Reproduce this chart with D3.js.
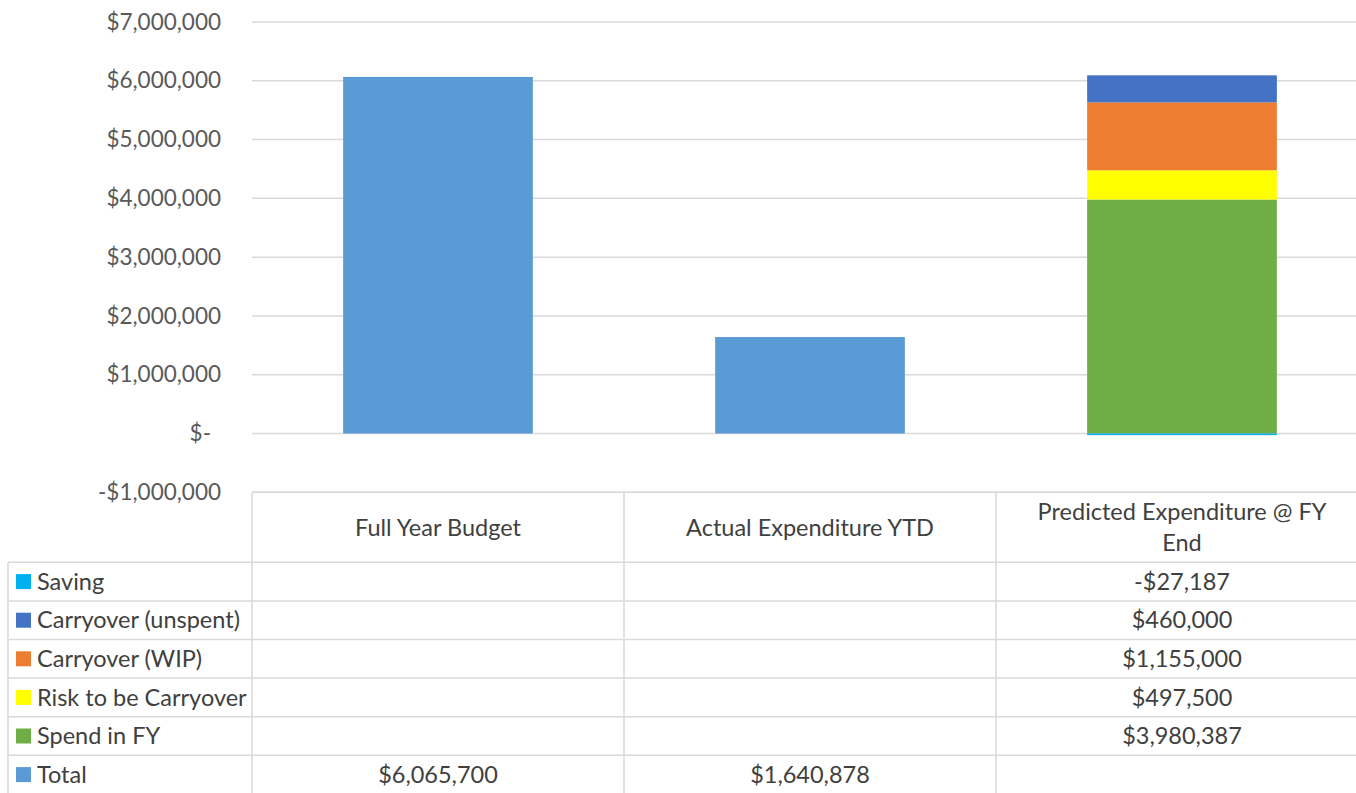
<!DOCTYPE html>
<html>
<head>
<meta charset="utf-8">
<script src="https://cdn.jsdelivr.net/npm/d3@7/dist/d3.min.js"></script>
<style>
  html, body { margin: 0; padding: 0; background: #fff; }
  svg { display: block; font-family: Lato, "Open Sans", sans-serif; }
</style>
</head>
<body>
<svg id="chart" width="1356" height="793"></svg>
<script>
// Budget categories (columns of the chart and of the data table)
const categories = ["Full Year Budget", "Actual Expenditure YTD", "Predicted Expenditure @ FY End"];

// Series, in data-table order (top to bottom)
const seriesNames = ["Saving", "Carryover (unspent)", "Carryover (WIP)", "Risk to be Carryover", "Spend in FY", "Total"];
const seriesColors = ["#00B0F0", "#4472C4", "#ED7D31", "#FFFF00", "#70AD47", "#5B9BD5"];

// Values per series, one per category (null = no value)
const saving      = [null, null, -27187];
const unspent     = [null, null, 460000];
const wip         = [null, null, 1155000];
const risk        = [null, null, 497500];
const spendInFY   = [null, null, 3980387];
const total       = [6065700, 1640878, null];
const seriesValues = [saving, unspent, wip, risk, spendInFY, total];

// Value axis ticks
const yTicks = [-1000000, 0, 1000000, 2000000, 3000000, 4000000, 5000000, 6000000, 7000000];

const svg = d3.select("#chart");
const gridColor = "#D9D9D9";
const axisText = "#595959";
const tableText = "#404040";
const axisFont = 22.5;
const tableFont = 23.5;

const plotLeft = 252, plotRight = 1368;
const x = d3.scaleBand().domain(categories).range([plotLeft, plotRight])
  .paddingInner(0.49).paddingOuter(0.245);
const col = d3.scaleBand().domain(categories).range([plotLeft, plotRight]);
const y = d3.scaleLinear().domain([-1000000, 7000000]).range([492.3, 22]);

const fmtMoney = d3.format(",.0f");
const money = v => v < 0 ? "-$" + fmtMoney(-v) : "$" + fmtMoney(v);
const tickLabel = v => v === 0 ? "$-" : money(v);

// Gridlines
svg.append("g").selectAll("line").data(yTicks).join("line")
  .attr("x1", plotLeft).attr("x2", plotRight)
  .attr("y1", d => y(d)).attr("y2", d => y(d))
  .attr("stroke", gridColor).attr("stroke-width", 1.5);

// Value axis labels
const yAxis = d3.axisLeft(y).tickValues(yTicks).tickFormat(tickLabel).tickSize(0).tickPadding(0);
const gy = svg.append("g").attr("transform", "translate(221,0)").call(yAxis);
gy.select(".domain").remove();
gy.selectAll("text")
  .attr("fill", axisText)
  .style("font-size", axisFont + "px")
  .style("font-family", "Lato, sans-serif")
  .attr("dx", d => d === 0 ? -10 : 0);

// Stacked bars: positive parts stack upward from zero, negatives downward
const stackOrder = [4, 3, 2, 1]; // Spend, Risk, WIP, Unspent from bottom
const rects = [];
categories.forEach((c, ci) => {
  let pos = 0, neg = 0;
  // Total series (single column for the first two categories)
  if (total[ci] != null) {
    rects.push({ c, y0: 0, y1: total[ci], color: seriesColors[5] });
  }
  stackOrder.forEach(si => {
    const v = seriesValues[si][ci];
    if (v == null) return;
    rects.push({ c, y0: pos, y1: pos + v, color: seriesColors[si] });
    pos += v;
  });
  const s = saving[ci];
  if (s != null) {
    rects.push({ c, y0: neg, y1: neg + s, color: seriesColors[0] });
    neg += s;
  }
});

svg.append("g").selectAll("rect").data(rects).join("rect")
  .attr("x", d => x(d.c))
  .attr("width", x.bandwidth())
  .attr("y", d => y(Math.max(d.y0, d.y1)))
  .attr("height", d => Math.abs(y(d.y0) - y(d.y1)))
  .attr("fill", d => d.color);

// Data table
const tableTop = y(-1000000);
const headerH = 70;
const rowH = 38.6;
const legendLeft = 8;
const tableBottom = tableTop + headerH + rowH * seriesNames.length;
const tbl = svg.append("g");

// horizontal rules
tbl.append("line").attr("x1", plotLeft).attr("x2", plotRight)
  .attr("y1", tableTop).attr("y2", tableTop)
  .attr("stroke", gridColor).attr("stroke-width", 1.5);
seriesNames.forEach((s, i) => {
  const yy = tableTop + headerH + rowH * i;
  tbl.append("line").attr("x1", legendLeft).attr("x2", plotRight)
    .attr("y1", yy).attr("y2", yy)
    .attr("stroke", gridColor).attr("stroke-width", 1.5);
});
tbl.append("line").attr("x1", legendLeft).attr("x2", plotRight)
  .attr("y1", tableBottom).attr("y2", tableBottom)
  .attr("stroke", gridColor).attr("stroke-width", 1.5);

// vertical rules
tbl.append("line").attr("x1", legendLeft).attr("x2", legendLeft)
  .attr("y1", tableTop + headerH).attr("y2", tableBottom)
  .attr("stroke", gridColor).attr("stroke-width", 1.5);
categories.concat([null]).forEach((c, i) => {
  const xx = plotLeft + col.bandwidth() * i;
  tbl.append("line").attr("x1", xx).attr("x2", xx)
    .attr("y1", tableTop).attr("y2", tableBottom)
    .attr("stroke", gridColor).attr("stroke-width", 1.5);
});

// header labels, wrapped to the column width
const maxHeaderW = 300;
categories.forEach(c => {
  const t = tbl.append("text")
    .attr("x", col(c) + col.bandwidth() / 2)
    .attr("text-anchor", "middle")
    .attr("fill", tableText)
    .style("font-size", tableFont + "px");
  const words = c.split(" ");
  const lines = [];
  let line = [];
  const probe = tbl.append("text").style("font-size", tableFont + "px");
  words.forEach(w => {
    const tryLine = line.concat([w]).join(" ");
    probe.text(tryLine);
    if (probe.node().getComputedTextLength() > maxHeaderW && line.length) {
      lines.push(line.join(" "));
      line = [w];
    } else {
      line.push(w);
    }
  });
  lines.push(line.join(" "));
  probe.remove();
  const lh = 31;
  const cy = tableTop + headerH / 2;
  lines.forEach((l, i) => {
    t.append("tspan")
      .attr("x", col(c) + col.bandwidth() / 2)
      .attr("y", cy + (i - (lines.length - 1) / 2) * lh)
      .attr("dy", "0.35em")
      .text(l);
  });
});

// series rows: legend key, name, values
seriesNames.forEach((s, i) => {
  const cy = tableTop + headerH + rowH * i + rowH / 2;
  tbl.append("rect")
    .attr("x", 16).attr("y", cy - 7.5)
    .attr("width", 15).attr("height", 15)
    .attr("fill", seriesColors[i]);
  tbl.append("text")
    .attr("x", 37).attr("y", cy).attr("dy", "0.35em")
    .attr("fill", tableText)
    .style("font-size", tableFont + "px")
    .text(s);
  seriesValues[i].forEach((v, ci) => {
    if (v == null) return;
    tbl.append("text")
      .attr("x", col(categories[ci]) + col.bandwidth() / 2)
      .attr("y", cy).attr("dy", "0.35em")
      .attr("text-anchor", "middle")
      .attr("fill", tableText)
      .style("font-size", tableFont + "px")
      .text(money(v));
  });
});
</script>
</body>
</html>
